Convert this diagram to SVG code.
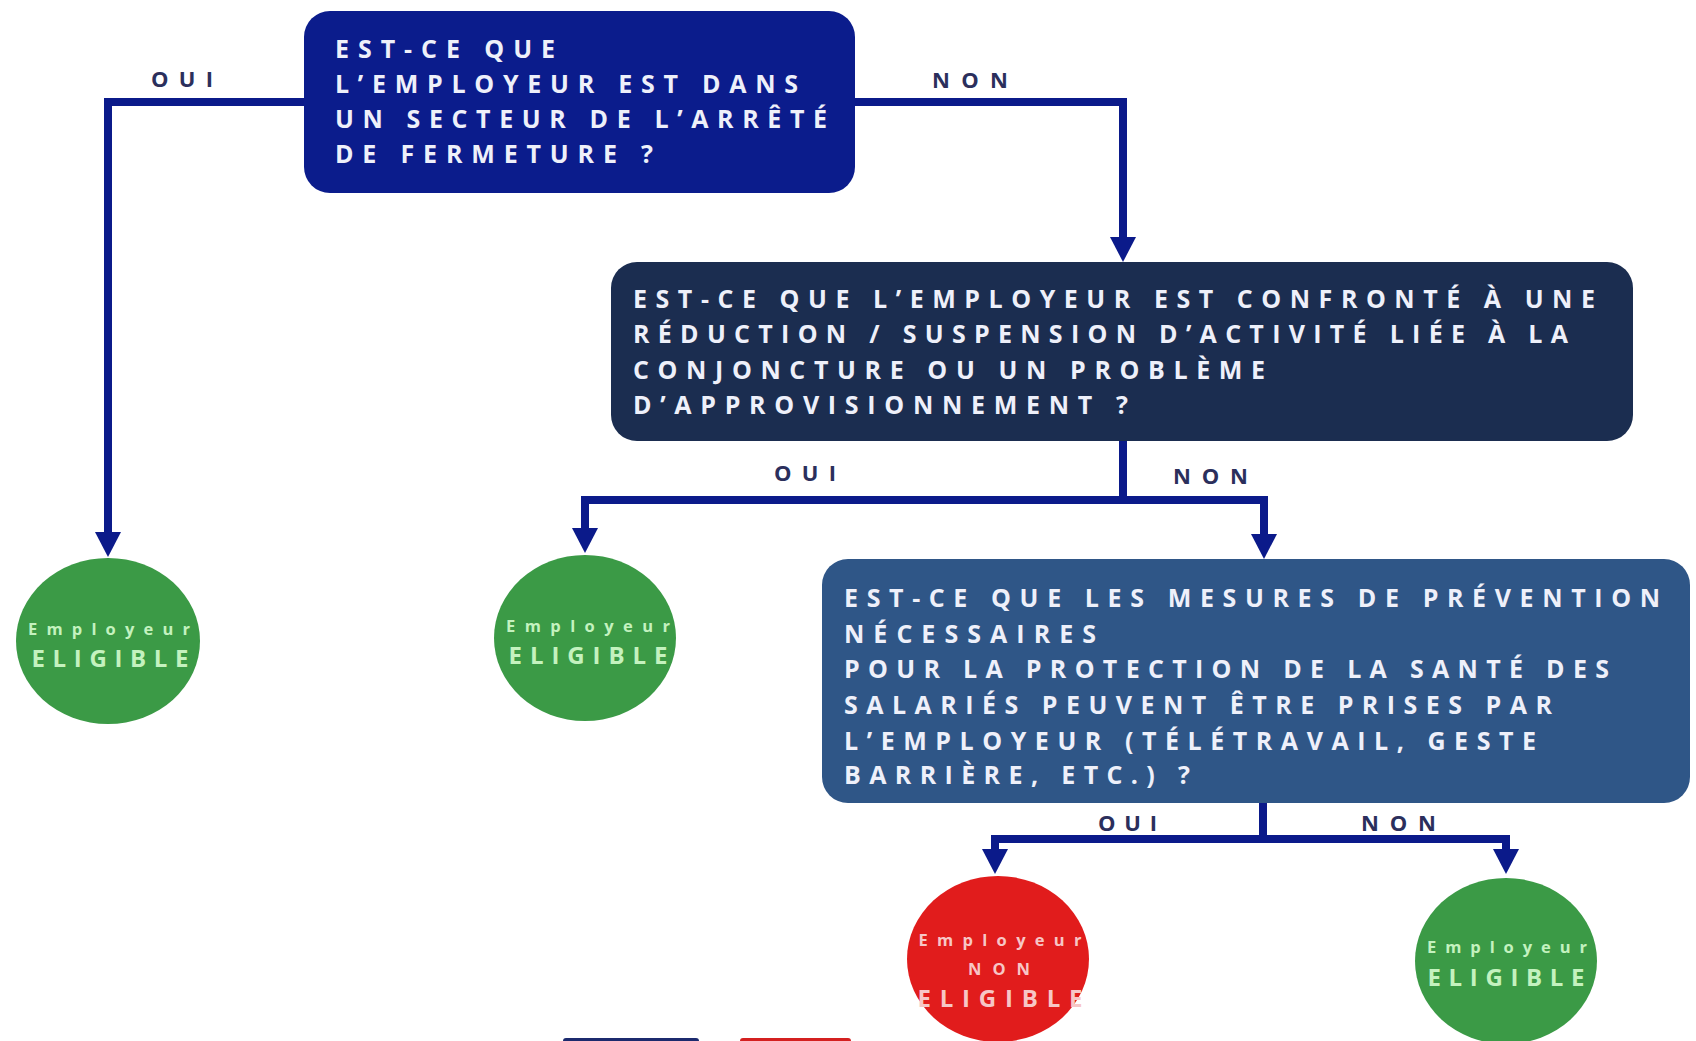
<svg xmlns="http://www.w3.org/2000/svg" width="1696" height="1041" viewBox="0 0 1696 1041">
<defs>
<style>
.q{font-family:"Open Sans","Liberation Sans",sans-serif;font-weight:700;font-size:25px;fill:#eef0fa}
.lbl{font-family:"Open Sans","Liberation Sans",sans-serif;font-weight:700;font-size:22px;fill:#2b2f5c}
.c{font-family:"Open Sans","Liberation Sans",sans-serif;font-weight:700;text-anchor:middle}
.s{font-size:16.5px}
.b{font-size:24px}
.g{fill:#c4f2bf}
.r{fill:#f7c6c6}
.conn{fill:none;stroke:#0b1a8a;stroke-width:8;stroke-linejoin:miter}
</style>
<marker id="ah" viewBox="0 0 25 26" refX="7" refY="13" markerWidth="25" markerHeight="26" markerUnits="userSpaceOnUse" orient="auto">
<path d="M0,0 L25,13 L0,26 Z" fill="#0b1a8a"/>
</marker>
</defs>
<rect width="1696" height="1041" fill="#ffffff"/>

<g id="connectors">
<path class="conn" d="M305,102 H108 V539" marker-end="url(#ah)"/>
<path class="conn" d="M854,102 H1123 V244" marker-end="url(#ah)"/>
<path class="conn" d="M1123,441 V500 H585 V535" marker-end="url(#ah)"/>
<path class="conn" d="M1123,500 H1264 V541" marker-end="url(#ah)"/>
<path class="conn" d="M1263,803 V839 H995 V856" marker-end="url(#ah)"/>
<path class="conn" d="M1263,839 H1506 V856" marker-end="url(#ah)"/>
<text class="lbl" x="151" y="87" textLength="62" lengthAdjust="spacing">OUI</text>
<text class="lbl" x="932" y="88" textLength="76" lengthAdjust="spacing">NON</text>
<text class="lbl" x="774" y="481" textLength="62" lengthAdjust="spacing">OUI</text>
<text class="lbl" x="1173" y="484" textLength="75" lengthAdjust="spacing">NON</text>
<text class="lbl" x="1098" y="831" textLength="59" lengthAdjust="spacing">OUI</text>
<text class="lbl" x="1361" y="831" textLength="75" lengthAdjust="spacing">NON</text>
</g>

<g id="q1">
<rect x="304" y="11" width="551" height="182" rx="26" fill="#0b1c8c"/>
<text class="q" x="335" y="58" textLength="220" lengthAdjust="spacing">EST-CE QUE</text>
<text class="q" x="335" y="93" textLength="463" lengthAdjust="spacing">L’EMPLOYEUR EST DANS</text>
<text class="q" x="335" y="128" textLength="492" lengthAdjust="spacing">UN SECTEUR DE L’ARRÊTÉ</text>
<text class="q" x="335" y="163" textLength="318" lengthAdjust="spacing">DE FERMETURE ?</text>
</g>

<g id="q2">
<rect x="611" y="262" width="1022" height="179" rx="26" fill="#1b2d50"/>
<text class="q" x="633" y="308" textLength="962" lengthAdjust="spacing">EST-CE QUE L’EMPLOYEUR EST CONFRONTÉ À UNE</text>
<text class="q" x="633" y="343" textLength="935" lengthAdjust="spacing">RÉDUCTION / SUSPENSION D’ACTIVITÉ LIÉE À LA</text>
<text class="q" x="633" y="379" textLength="632" lengthAdjust="spacing">CONJONCTURE OU UN PROBLÈME</text>
<text class="q" x="633" y="414" textLength="495" lengthAdjust="spacing">D’APPROVISIONNEMENT ?</text>
</g>

<g id="q3">
<rect x="822" y="559" width="868" height="244" rx="26" fill="#2f5687"/>
<text class="q" x="844" y="607" textLength="816" lengthAdjust="spacing">EST-CE QUE LES MESURES DE PRÉVENTION</text>
<text class="q" x="844" y="643" textLength="252" lengthAdjust="spacing">NÉCESSAIRES</text>
<text class="q" x="844" y="678" textLength="765" lengthAdjust="spacing">POUR LA PROTECTION DE LA SANTÉ DES</text>
<text class="q" x="844" y="714" textLength="708" lengthAdjust="spacing">SALARIÉS PEUVENT ÊTRE PRISES PAR</text>
<text class="q" x="844" y="750" textLength="692" lengthAdjust="spacing">L’EMPLOYEUR (TÉLÉTRAVAIL, GESTE</text>
<text class="q" x="844" y="784" textLength="346" lengthAdjust="spacing">BARRIÈRE, ETC.) ?</text>
</g>

<g id="r1">
<ellipse cx="108" cy="641" rx="92" ry="83" fill="#3b9a46"/>
<text class="c s g" x="109" y="635" textLength="162" lengthAdjust="spacing">Employeur</text>
<text class="c b g" x="110" y="667" textLength="157" lengthAdjust="spacing">ELIGIBLE</text>
</g>

<g id="r2">
<ellipse cx="585" cy="638" rx="91" ry="83" fill="#3b9a46"/>
<text class="c s g" x="588" y="632" textLength="164" lengthAdjust="spacing">Employeur</text>
<text class="c b g" x="588" y="664" textLength="159" lengthAdjust="spacing">ELIGIBLE</text>
</g>

<g id="r3">
<ellipse cx="998" cy="959" rx="91" ry="83" fill="#e11c1c"/>
<text class="c s r" x="1000" y="946" textLength="163" lengthAdjust="spacing">Employeur</text>
<text class="c s r" x="999" y="975" textLength="62" lengthAdjust="spacing">NON</text>
<text class="c b r" x="1000" y="1007" textLength="165" lengthAdjust="spacing">ELIGIBLE</text>
</g>

<g id="r4">
<ellipse cx="1506" cy="961" rx="91" ry="83" fill="#3b9a46"/>
<text class="c s g" x="1507" y="953" textLength="160" lengthAdjust="spacing">Employeur</text>
<text class="c b g" x="1506" y="986" textLength="157" lengthAdjust="spacing">ELIGIBLE</text>
</g>

<rect x="563" y="1038" width="136" height="6" rx="3" fill="#1c2a6e"/>
<rect x="740" y="1038" width="111" height="6" rx="3" fill="#d42020"/>
</svg>
